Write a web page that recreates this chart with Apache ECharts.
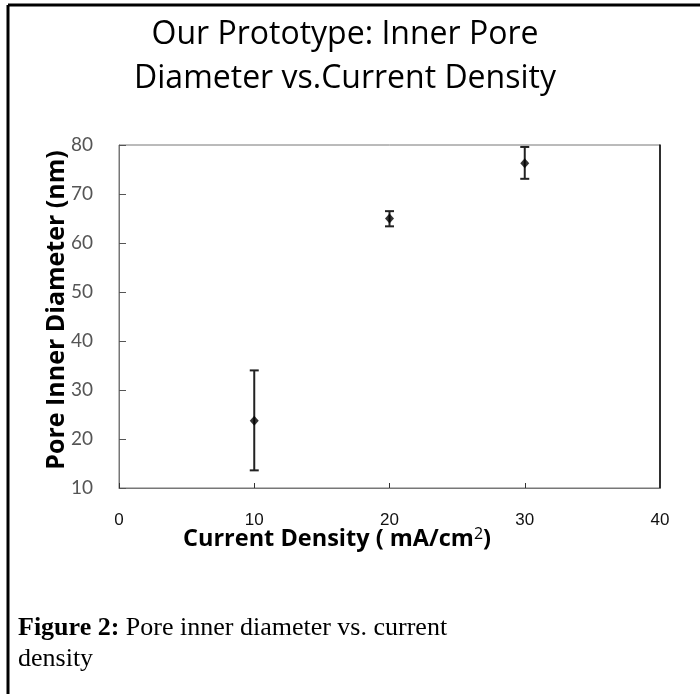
<!DOCTYPE html>
<html><head><meta charset="utf-8">
<script src="https://cdn.jsdelivr.net/npm/echarts@6/dist/echarts.min.js"></script>
<style>html,body{margin:0;padding:0;background:#fff}#c{width:700px;height:694px}</style>
</head><body><div id="c"></div>
<script>
// Data
var currentDensity = [10, 20, 30];
var poreDiameter = [23.7, 65.0, 76.3];
var errorLow = [13.6, 63.4, 73.1];
var errorHigh = [34.0, 66.5, 79.6];
var xTicks = [0, 10, 20, 30, 40];
var yTicks = [10, 20, 30, 40, 50, 60, 70, 80];

var chart = echarts.init(document.getElementById('c'), null, {renderer: 'canvas'});
var points = currentDensity.map(function (x, i) { return [x, poreDiameter[i]]; });
var bars = currentDensity.map(function (x, i) { return [x, errorLow[i], errorHigh[i]]; });

chart.setOption({
  backgroundColor: '#fff',
  animation: false,
  grid: {left: 119, top: 145, right: 40, bottom: 206, show: true, borderColor: '#777', borderWidth: 1},
  xAxis: {
    type: 'value', min: xTicks[0], max: xTicks[xTicks.length - 1], interval: 10,
    splitLine: {show: false},
    axisLine: {lineStyle: {color: '#777', width: 1}},
    axisTick: {inside: true, length: 5, lineStyle: {color: '#333'}},
    axisLabel: {color: '#111', fontFamily: 'Liberation Sans', fontSize: 17, margin: 24}
  },
  yAxis: [{
    type: 'value', min: yTicks[0], max: yTicks[yTicks.length - 1], interval: 10,
    splitLine: {show: false},
    axisLine: {show: true, lineStyle: {color: '#777', width: 1}},
    axisTick: {inside: true, length: 7, lineStyle: {color: '#555'}},
    axisLabel: {color: '#555', fontFamily: 'Lato', fontSize: 19, margin: 26}
  }, {
    type: 'value', position: 'right', min: yTicks[0], max: yTicks[yTicks.length - 1], interval: 10,
    splitLine: {show: false},
    axisLine: {show: true, lineStyle: {color: '#000', width: 1.5}},
    axisTick: {show: false}, axisLabel: {show: false}
  }],
  series: [{
    type: 'custom',
    data: bars,
    renderItem: function (params, api) {
      var x = api.value(0);
      var lo = api.coord([x, api.value(1)]);
      var hi = api.coord([x, api.value(2)]);
      var w = 4.5;
      var st = {stroke: '#222', lineWidth: 2};
      return {type: 'group', children: [
        {type: 'line', shape: {x1: lo[0], y1: lo[1], x2: hi[0], y2: hi[1]}, style: st},
        {type: 'line', shape: {x1: lo[0] - w, y1: lo[1], x2: lo[0] + w, y2: lo[1]}, style: st},
        {type: 'line', shape: {x1: hi[0] - w, y1: hi[1], x2: hi[0] + w, y2: hi[1]}, style: st}
      ]};
    },
    z: 2
  }, {
    type: 'scatter',
    data: points,
    symbol: 'diamond',
    symbolSize: [9, 10],
    itemStyle: {color: '#000'},
    z: 3
  }],
  graphic: [
    {type: 'line', shape: {x1: 8, y1: 5, x2: 700, y2: 5}, style: {stroke: '#000', lineWidth: 3}},
    {type: 'line', shape: {x1: 8, y1: 5, x2: 8, y2: 694}, style: {stroke: '#000', lineWidth: 3}},
    {type: 'text', x: 345, y: 13, style: {text: 'Our Prototype: Inner Pore\nDiameter vs.Current Density', fill: '#000',
      font: '32px "Open Sans"', textAlign: 'center', lineHeight: 44}},
    {type: 'text', x: 337, y: 526, style: {text: '{a|Current Density ( mA/cm}{s|2}{a|)}', textAlign: 'center',
      rich: {a: {font: 'bold 23.5px "Open Sans"', fill: '#000'}, s: {font: '16px "Open Sans"', fill: '#000', verticalAlign: 'top', padding: [0,0,10,0]}}}},
    {type: 'text', x: 57, y: 310, rotation: Math.PI / 2, style: {text: 'Pore Inner Diameter (nm)', fill: '#000',
      font: 'bold 25px "Open Sans"', textAlign: 'center', textVerticalAlign: 'middle'}},
    {type: 'text', x: 18, y: 613, style: {text: '{b|Figure 2:}{n| Pore inner diameter vs. current}\n{n|density}',
      lineHeight: 31,
      rich: {b: {font: 'bold 26px "Liberation Serif"', fill: '#000', lineHeight: 31}, n: {font: '26px "Liberation Serif"', fill: '#000', lineHeight: 31}}}}
  ]
});
</script></body></html>
